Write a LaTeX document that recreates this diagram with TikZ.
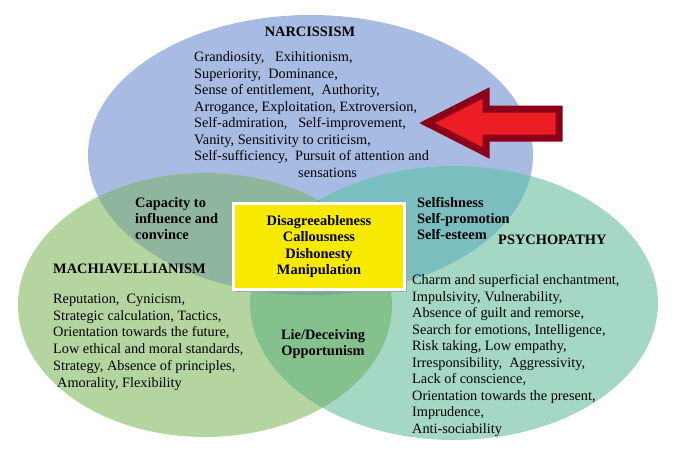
\documentclass[tikz,border=0pt]{standalone}
\usepackage{fontspec}
\setmainfont{Liberation Serif}
\definecolor{cBlue}{RGB}{168,188,227}
\definecolor{cGreen}{RGB}{180,213,160}
\definecolor{cTeal}{RGB}{164,215,196}
\definecolor{cBG}{RGB}{143,181,158}
\definecolor{cBT}{RGB}{122,190,192}
\definecolor{cGT}{RGB}{133,193,141}
\definecolor{cBGT}{RGB}{118,170,150}
\definecolor{cYellow}{RGB}{247,234,0}
\definecolor{cArrowFill}{RGB}{236,29,36}
\definecolor{cArrowLine}{RGB}{139,0,24}
\begin{document}
\begin{tikzpicture}[x=1pt,y=-1pt,
  txt/.style={inner sep=0pt, font=\fontsize{14.3}{16.5}\selectfont, text=black},
  btxt/.style={txt, font=\fontsize{14.4}{16.5}\selectfont\bfseries},
  ]
\useasboundingbox (0,0) rectangle (680,455);
\def\BlueE{(310.5,155) ellipse [x radius=222.5pt, y radius=140pt]}
\def\GreenE{(205,305) ellipse [x radius=187pt, y radius=132pt]}
\def\TealE{(454,303) ellipse [x radius=204pt, y radius=137pt]}
% base ellipses
\fill[cBlue] \BlueE;
\fill[cGreen] \GreenE;
\fill[cTeal] \TealE;
% overlaps
\begin{scope}
  \clip \BlueE;
  \fill[cBG] \GreenE;
  \fill[cBT] \TealE;
\end{scope}
\begin{scope}
  \clip \GreenE;
  \fill[cGT] \TealE;
\end{scope}
\begin{scope}
  \clip \BlueE;
  \clip \GreenE;
  \fill[cBGT] \TealE;
\end{scope}
% arrow
\draw[cArrowLine, fill=cArrowFill, line width=7pt, line join=miter]
  (427,123) -- (486,93) -- (486,109) -- (559,109) -- (559,138) -- (486,138) -- (486,153) -- cycle;
% central box
\fill[black!35] (236,206) rectangle (407,292);
\draw[white, line width=3pt, fill=cYellow] (233.5,203.5) rectangle (404,289);
% texts
\node[btxt] (narcT) at (310,32) {NARCISSISM};
\node[txt, anchor=north west, align=left] (narcB) at (194,51.5)
 {Grandiosity,\ \ \ Exihitionism,\\
  Superiority,\ \ Dominance,\\
  Sense of entitlement,\ \ Authority,\\
  Arrogance, Exploitation, Extroversion,\\
  Self-admiration,\ \ \ Self-improvement,\\
  Vanity, Sensitivity to criticism,\\
  Self-sufficiency,\ \ Pursuit of attention and\\
  \hspace*{104pt}sensations};
\node[btxt, anchor=north west, align=left, font=\fontsize{14.4}{16}\selectfont\bfseries] (capac) at (135,197.5)
 {Capacity to\\ influence and\\ convince};
\node[btxt, anchor=west] (machT) at (53,269) {MACHIAVELLIANISM};
\node[txt, anchor=north west, align=left, font=\fontsize{14.3}{16.9}\selectfont] (machB) at (53,293.5)
 {Reputation,\ \ Cynicism,\\
  Strategic calculation, Tactics,\\
  Orientation towards the future,\\
  Low ethical and moral standards,\\
  Strategy, Absence of principles,\\
  \hspace*{4pt}Amorality, Flexibility};
\node[btxt, anchor=north, align=center, font=\fontsize{14.4}{16.3}\selectfont\bfseries] (core) at (319,215.5)
 {Disagreeableness\\ Callousness\\ Dishonesty\\ Manipulation};
\node[btxt, anchor=north, align=center, font=\fontsize{14.4}{16}\selectfont\bfseries] (lie) at (323,329.5)
 {Lie/Deceiving\\ Opportunism};
\node[btxt, anchor=north west, align=left, font=\fontsize{14.4}{16}\selectfont\bfseries] (self) at (417,197.5)
 {Selfishness\\ Self-promotion\\ Self-esteem};
\node[btxt, anchor=west] (psyT) at (498,240) {PSYCHOPATHY};
\node[txt, anchor=north west, align=left] (psyB) at (412,274.5)
 {Charm and superficial enchantment,\\
  Impulsivity,\ Vulnerability,\\
  Absence of guilt and remorse,\\
  Search for emotions, Intelligence,\\
  Risk taking, Low empathy,\\
  Irresponsibility,\ \ Aggressivity,\\
  Lack of conscience,\\
  Orientation towards the present,\\
  Imprudence,\\
  Anti-sociability};
\end{tikzpicture}
\end{document}
